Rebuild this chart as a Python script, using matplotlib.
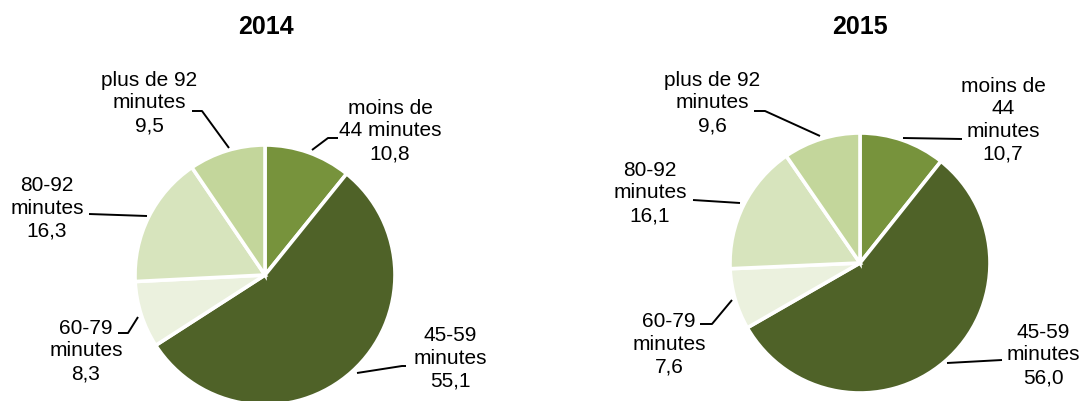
import matplotlib
matplotlib.use('Agg')
import matplotlib.pyplot as plt

plt.rcParams['font.family'] = ['Liberation Sans', 'DejaVu Sans']

# data
years = ['2014', '2015']
categories = ['moins de 44 minutes', '45-59 minutes', '60-79 minutes',
              '80-92 minutes', 'plus de 92 minutes']
values_2014 = [10.8, 55.1, 8.3, 16.3, 9.5]
values_2015 = [10.7, 56.0, 7.6, 16.1, 9.6]
labels_2014 = ['moins de\n44 minutes', '45-59\nminutes', '60-79\nminutes',
               '80-92\nminutes', 'plus de 92\nminutes']
labels_2015 = ['moins de\n44\nminutes', '45-59\nminutes', '60-79\nminutes',
               '80-92\nminutes', 'plus de 92\nminutes']
colors = ['#77933C', '#4F6228', '#EBF1DE', '#D7E4BD', '#C3D69B']

W, H = 1082, 401

# layout in image pixels (y from top)
pie_centers = [(265, 275), (860, 263)]
pie_radius = 130
title_pos = [(266, 27), (860, 27)]
text_pos = [
    [(390, 131), (450, 358), (86, 351), (47, 208), (149, 103)],
    [(1003, 120), (1043, 355), (669, 344), (650, 193), (712, 103)],
]
leaders = [
    [[(312, 150), (328, 138), (338, 138)],
     [(357, 373), (402, 366), (406, 366)],
     [(138, 317), (128, 333), (118, 333)],
     [(147, 216), (89, 214)],
     [(229, 148), (202, 111), (192, 111)]],
    [[(903, 138), (962, 139)],
     [(947, 363), (1002, 360)],
     [(732, 300), (712, 324), (700, 324)],
     [(740, 203), (693, 200)],
     [(820, 136), (765, 111), (754, 111)]],
]


def fmt(v):
    return ('%.1f' % v).replace('.', ',')


fig = plt.figure(figsize=(W / 100.0, H / 100.0), dpi=100)
ax = fig.add_axes([0, 0, 1, 1])

for k, vals in enumerate([values_2014, values_2015]):
    cx, cy = pie_centers[k]
    ax.pie(vals, colors=colors, startangle=90, counterclock=False,
           center=(cx, H - cy), radius=pie_radius, frame=True,
           wedgeprops=dict(edgecolor='white', linewidth=2.6))
    ax.text(title_pos[k][0], H - title_pos[k][1], years[k], ha='center',
            va='center', fontsize=18, fontweight='bold')
    labs = [labels_2014, labels_2015][k]
    for i in range(len(vals)):
        tx, ty = text_pos[k][i]
        ax.text(tx, H - ty, labs[i] + '\n' + fmt(vals[i]), ha='center',
                va='center', fontsize=15, linespacing=1.24)
        pts = leaders[k][i]
        ax.plot([p[0] for p in pts], [H - p[1] for p in pts], color='black',
                lw=1.4, solid_capstyle='butt')

ax.set_xlim(0, W)
ax.set_ylim(0, H)
ax.set_aspect('equal')
ax.axis('off')

fig.savefig('out.png', dpi=100)
